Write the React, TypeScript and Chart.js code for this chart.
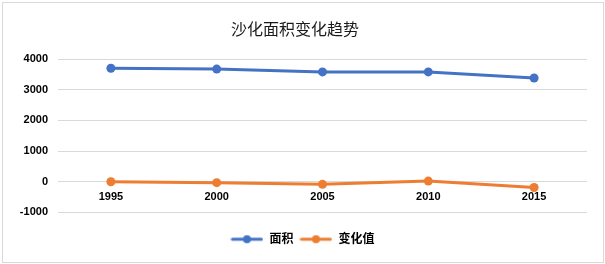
import React, { useEffect, useRef } from "react";
import { Chart, registerables } from "chart.js";

Chart.register(...registerables);

const years = ["1995", "2000", "2005", "2010", "2015"];
const areaValues = [3700, 3670, 3580, 3580, 3380];
const changeValues = [0, -30, -85, 20, -190];
const seriesNames = ["面积", "变化值"];
const titleText = "沙化面积变化趋势";

const FONT = '"Liberation Sans", "Noto Sans CJK SC", sans-serif';

function makeLegendIcon(color: string) {
  const c = document.createElement("canvas");
  c.width = 33;
  c.height = 10;
  const ctx = c.getContext("2d")!;
  ctx.strokeStyle = color;
  ctx.lineWidth = 3;
  ctx.lineCap = "round";
  ctx.beginPath();
  ctx.moveTo(2, 5);
  ctx.lineTo(31, 5);
  ctx.stroke();
  ctx.fillStyle = color;
  ctx.beginPath();
  ctx.arc(16.5, 5, 4, 0, Math.PI * 2);
  ctx.fill();
  return c;
}

const borderPlugin = {
  id: "outerBorder",
  beforeDraw(chart: any) {
    const ctx = chart.ctx;
    ctx.save();
    ctx.fillStyle = "#ffffff";
    ctx.fillRect(0, 0, chart.width, chart.height);
    ctx.strokeStyle = "#d9d9d9";
    ctx.lineWidth = 1;
    ctx.strokeRect(2.5, 2.5, chart.width - 4, chart.height - 4);
    ctx.restore();
  },
  afterDraw(chart: any) {
    const ctx = chart.ctx;
    ctx.save();
    ctx.fillStyle = "#1a1a1a";
    ctx.font = `16px ${FONT}`;
    ctx.textAlign = "center";
    ctx.textBaseline = "middle";
    ctx.fillText(titleText, 295, 31);
    ctx.restore();
  },
};

export default function App() {
  const ref = useRef<HTMLCanvasElement>(null);
  useEffect(() => {
    const blue = "#4472C4";
    const orange = "#ED7D31";
    const icons = [makeLegendIcon(blue), makeLegendIcon(orange)];
    const chart = new Chart(ref.current!, {
      type: "line",
      data: {
        labels: years,
        datasets: [
          {
            label: seriesNames[0],
            data: areaValues,
            borderColor: blue,
            backgroundColor: blue,
            borderWidth: 3,
            pointRadius: 4.5,
            pointBorderWidth: 0,
            pointHoverRadius: 4.5,
            tension: 0,
          },
          {
            label: seriesNames[1],
            data: changeValues,
            borderColor: orange,
            backgroundColor: orange,
            borderWidth: 3,
            pointRadius: 4.5,
            pointBorderWidth: 0,
            pointHoverRadius: 4.5,
            tension: 0,
          },
        ],
      },
      options: {
        animation: false,
        responsive: false,
        devicePixelRatio: 1,
        layout: { padding: { left: 9, right: 9, top: 59, bottom: 8.8 } },
        plugins: {
          title: { display: false },
          legend: {
            position: "bottom",
            title: {
              display: true,
              text: "",
              font: { size: 1 },
              padding: { top: 13.6, bottom: 0 },
            },
            labels: {
              color: "#000",
              font: { family: FONT, size: 12, weight: "bold" },
              usePointStyle: true,
              pointStyleWidth: 33,
              boxWidth: 33,
              boxHeight: 10,
              padding: 6,
              generateLabels: (ch: any) =>
                ch.data.datasets.map((ds: any, i: number) => ({
                  text: ds.label,
                  pointStyle: icons[i],
                  fillStyle: ds.borderColor,
                  strokeStyle: ds.borderColor,
                  lineWidth: 0,
                  hidden: false,
                  datasetIndex: i,
                  fontColor: "#000",
                })),
            },
          },
          tooltip: { enabled: false },
        },
        scales: {
          x: {
            position: { y: 0 } as any,
            offset: true,
            grid: { display: false, drawTicks: false },
            border: { display: false },
            ticks: {
              color: "#000",
              font: { family: FONT, size: 11, weight: "bold" },
              padding: 9,
              maxRotation: 0,
            },
          },
          y: {
            min: -1000,
            max: 4000,
            grid: { color: "#d9d9d9", lineWidth: 1, drawTicks: false },
            border: { display: false },
            ticks: {
              stepSize: 1000,
              color: "#000",
              font: { family: FONT, size: 11, weight: "bold" },
              padding: 10,
              callback: (v: any) => String(v),
            },
            afterFit: (scale: any) => {
              scale.width = 49;
            },
          },
          y2: {
            position: "right",
            min: -1000,
            max: 4000,
            grid: { display: false, drawTicks: false },
            border: { display: false },
            ticks: { display: false },
            afterFit: (scale: any) => {
              scale.width = 9;
            },
          },
        },
      },
      plugins: [borderPlugin],
    });
    return () => chart.destroy();
  }, []);
  return (
    <div style={{ position: "fixed", left: 0, top: 0, width: 605, height: 264 }}>
      <canvas ref={ref} width={605} height={264} style={{ display: "block" }} />
    </div>
  );
}
